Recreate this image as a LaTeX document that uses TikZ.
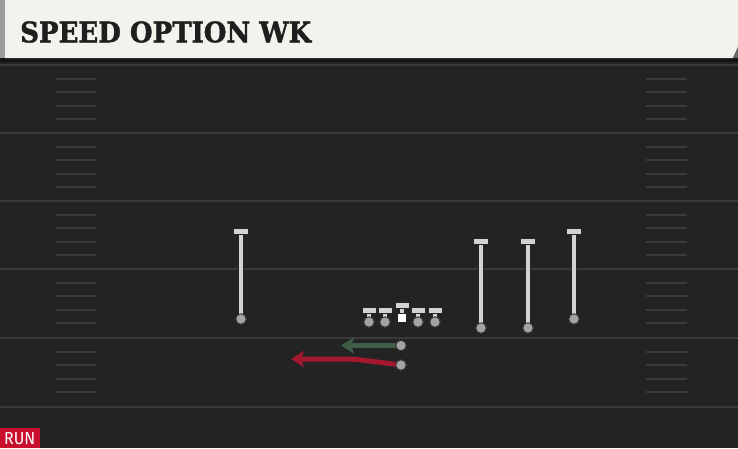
\documentclass[tikz,border=0pt]{standalone}
\usepackage{fontspec}
\setmainfont{DejaVu Serif}
\newfontfamily\titlefont[BoldFeatures={FakeBold=1.5}]{DejaVu Serif}
\newfontfamily\runfont{Fira Sans}
\usetikzlibrary{arrows.meta}
\definecolor{fieldbg}{HTML}{232323}
\definecolor{yardc}{HTML}{3A3A3A}
\definecolor{hashc}{HTML}{3B3B3B}
\definecolor{headbg}{HTML}{F4F2EC}
\definecolor{headstrip}{HTML}{9C9C9C}
\definecolor{titlec}{HTML}{1E1E1E}
\definecolor{playerc}{HTML}{D2D2D2}
\definecolor{dotc}{HTML}{A3A3A3}
\definecolor{routegreen}{HTML}{3F5E48}
\definecolor{routered}{HTML}{A3172F}
\definecolor{runred}{HTML}{C8102E}
\tikzset{
  yardline/.style={draw=yardc, line width=2pt},
  hashmark/.style={draw=hashc, line width=2pt},
  pdot/.style={circle, fill=dotc, draw=black!80, line width=0.9pt, minimum size=10.5pt, inner sep=0pt},
  tbar/.style={rectangle, fill=playerc, draw=black!85, line width=0.9pt, minimum width=#1, minimum height=5.5pt, inner sep=0pt},
  tbar/.default=15pt,
  stemout/.style={draw=black!85, line width=6.6pt},
  stemin/.style={draw=playerc, line width=4.8pt},
  centersq/.style={rectangle, fill=white, minimum width=9.5pt, minimum height=9.5pt, inner sep=0pt},
  route/.style={line width=5pt, -{Stealth[length=13pt,width=16pt,inset=3pt]}},
}
\begin{document}
\begin{tikzpicture}[x=1pt,y=-1pt]
\useasboundingbox (0,0) rectangle (738,448);
% field
\fill[fieldbg] (0,0) rectangle (738,448);
% header
\fill[black!92] (0,56) rectangle (738,62);
\fill[headbg] (5,0) -- (738,0) -- (738,47) -- (733,58) -- (5,58) -- cycle;
\fill[headstrip] (0,0) rectangle (5,58);
\fill[black!60] (733,58) -- (738,47) -- (738,58) -- cycle;
\node[anchor=west, inner sep=0pt, text=titlec] (title) at (20,32)
  {\resizebox{291pt}{21pt}{\titlefont\bfseries SPEED OPTION WK}};
% yard lines
\foreach \y in {65,133,201,269,338,407} {
  \draw[yardline] (0,\y) -- (738,\y);
}
% hash marks
\foreach \s in {65,133,201,269,338} {
  \foreach \k in {1,2,3,4} {
    \pgfmathsetmacro{\yy}{\s+\k*13.6}
    \draw[hashmark] (56,\yy) -- (96,\yy);
    \draw[hashmark] (646,\yy) -- (687,\yy);
  }
}
% receivers
\foreach \n/\x/\t/\b in {wa/241/231.5/319, wb/481/241.5/328, wc/528/241.5/328, wd/574/231.5/319} {
  \node[pdot] (\n dot) at (\x,\b) {};
  \node[tbar] (\n bar) at (\x,\t) {};
  \draw[stemout] (\n bar.south) -- (\n dot.center);
  \draw[stemin] (\n bar.south) -- (\n dot.center);
  \node[pdot] at (\n dot) {};
  \node[tbar] at (\n bar) {};
}
% linemen
\foreach \n/\x in {lt/369, lg/385, rg/418, rt/435} {
  \node[pdot] (\n dot) at (\x,322) {};
  \node[tbar=14pt] (\n bar) at (\x,310.5) {};
  \draw[stemout] (\n bar.south) -- (\n dot.center);
  \draw[stemin] (\n bar.south) -- (\n dot.center);
  \node[pdot] at (\n dot) {};
  \node[tbar=14pt] at (\n bar) {};
}
% center
\node[tbar=14pt] (cbar) at (402,305.5) {};
\node[centersq] (csq) at (402,318) {};
\draw[stemout] (cbar.south) -- (csq.north);
\draw[stemin] (cbar.south) -- (csq.north);
\node[tbar=14pt] at (cbar) {};
\node[centersq, draw=black!85, line width=0.9pt] at (csq) {};
% backs
\coordinate (gend) at (341,345.5);
\coordinate (rbend) at (353,359);
\coordinate (rend) at (291,359);
\node[pdot] (qb) at (401,345.5) {};
\node[pdot] (rb) at (401,365) {};
\draw[route, routegreen] (qb.center) -- (gend);
\draw[route, routered, rounded corners=8pt] (rb.center) -- (rbend) -- (rend);
\node[pdot] at (qb) {};
\node[pdot] at (rb) {};
% RUN tag
\fill[runred] (0,428) rectangle (40,448);
\node[anchor=south west, inner sep=0pt, text=white] (run) at (4,445)
  {\resizebox{31pt}{12pt}{\runfont RUN}};
\end{tikzpicture}
\end{document}
